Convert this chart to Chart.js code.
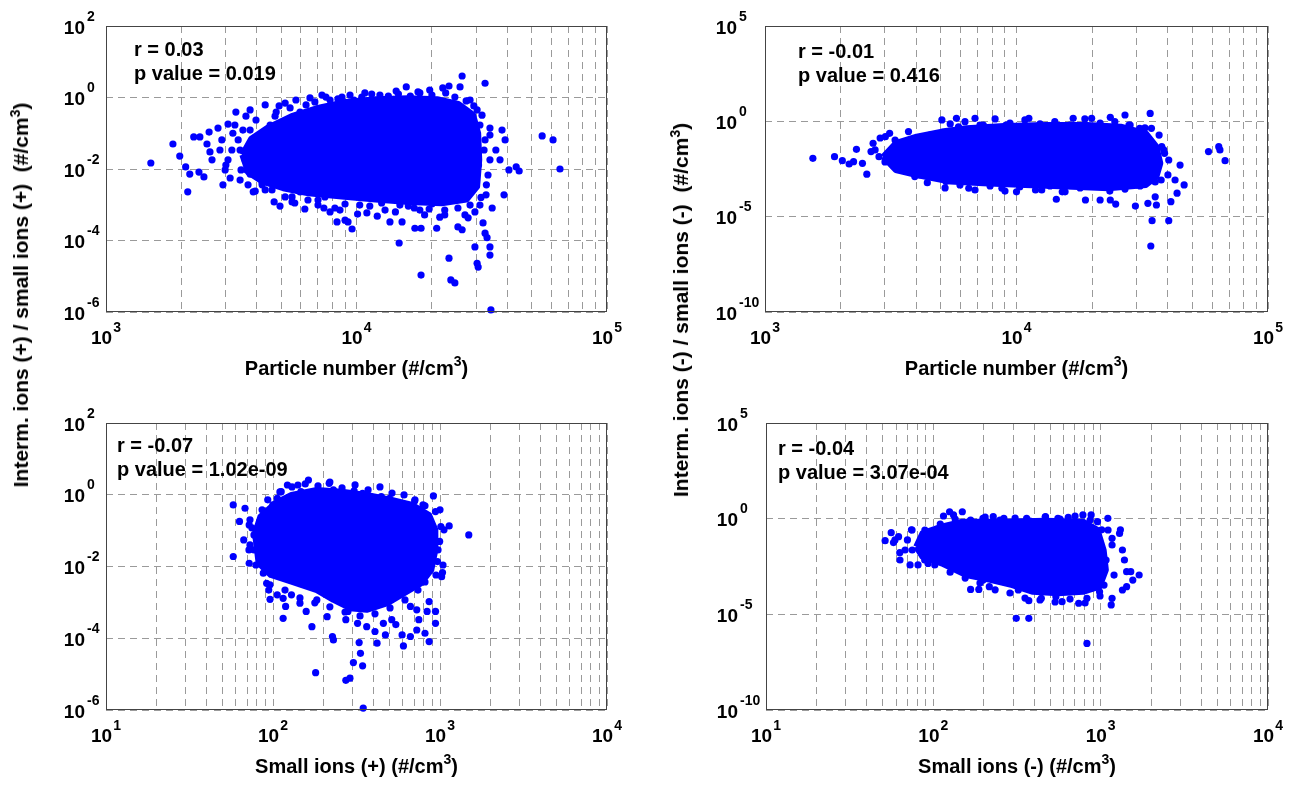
<!DOCTYPE html>
<html>
<head>
<meta charset="utf-8">
<script src="https://cdn.jsdelivr.net/npm/chart.js@4.4.0/dist/chart.umd.min.js"></script>
<style>
  html, body { margin: 0; padding: 0; background: #fff; }
  #wrap { position: relative; width: 1295px; height: 785px; overflow: hidden; }
  canvas { position: absolute; }
  .ytitle {
    position: absolute; white-space: nowrap; color: #000;
    font: bold 21px "Liberation Sans", Arial, sans-serif; line-height: 24px; height: 24px;
    transform: translate(-50%, -50%) rotate(-90deg);
  }
  .ytitle sup { font-size: 14px; line-height: 0; vertical-align: 8px; }
</style>
</head>
<body>
<div id="wrap">
  <canvas id="c1" width="647" height="392" style="left:0;top:0"></canvas>
  <canvas id="c2" width="648" height="392" style="left:647px;top:0"></canvas>
  <canvas id="c3" width="647" height="393" style="left:0;top:392px"></canvas>
  <canvas id="c4" width="648" height="393" style="left:647px;top:392px"></canvas>
  <div class="ytitle" style="left:21px;top:295px">Interm. ions (+) / small ions (+)&nbsp;&nbsp;(#/cm<sup>3</sup>)</div>
  <div class="ytitle" style="left:681px;top:310px">Interm. ions (-) / small ions (-)&nbsp;&nbsp;(#/cm<sup>3</sup>)</div>
</div>
<script>
const BLUE = "#0000ff";
const FONT = '"Liberation Sans", Arial, sans-serif';

// grid lines and tick labels
const gridParticles = [1e3, 2e3, 3e3, 4e3, 5e3, 6e3, 7e3, 8e3, 9e3,
  1e4, 2e4, 3e4, 4e4, 5e4, 6e4, 7e4, 8e4, 9e4, 1e5];
const gridSmallIons = [10, 20, 30, 40, 50, 60, 70, 80, 90,
  100, 200, 300, 400, 500, 600, 700, 800, 900,
  1000, 2000, 3000, 4000, 5000, 6000, 7000, 8000, 9000, 10000];
const labelsParticles = [1e3, 1e4, 1e5];
const labelsSmallIons = [1e1, 1e2, 1e3, 1e4];
const ticksRatioPos = [1e-6, 1e-4, 1e-2, 1e0, 1e2];
const ticksRatioNeg = [1e-10, 1e-5, 1e0, 1e5];

const xTitles = ["Particle number", "Particle number", "Small ions (+)", "Small ions (-)"];
const statR = ["r = 0.03", "r = -0.01", "r = -0.07", "r = -0.04"];
const statP = ["p value = 0.019", "p value = 0.416", "p value = 1.02e-09", "p value = 3.07e-04"];

// panel 1: particle number vs ratio (+)
const p1Core = [[3500,0.025],[3800,0.07],[4400,0.14],[5510,0.3],[6930,0.5],[9060,0.75],[11900,0.9],
  [16100,0.95],[21000,0.9],[25500,0.66],[29200,0.33],[30600,0.1],[30900,0.018],[30300,0.0032],
  [27500,0.0014],[21900,0.0011],[16100,0.0012],[11900,0.0014],[8730,0.0017],[6430,0.0021],
  [5100,0.0029],[4220,0.0044],[3700,0.008],[3500,0.025]];
const p1Points = [[1510,0.0147],[1850,0.05],[1970,0.023],[2080,0.0114],[2120,0.0023],[2160,0.0072],
  [2240,0.079],[2370,0.079],[2350,0.0082],[2460,0.006],[2530,0.05],[2580,0.108],[2600,0.03],
  [2650,0.018],[2930,0.0036],[2990,0.0094],[3070,0.18],[3210,0.10],[3460,0.0094],[3620,0.30],
  [3760,0.0072],[3940,0.0024],[4200,0.0036],[4320,0.0026],[4690,0.0012],[4730,0.30],[4910,0.58],
  [5190,0.00165],[5530,0.00165],[5950,0.0023],[6290,0.62],[6400,0.00136],[7280,1.17],[7410,0.00081],
  [7480,0.00165],[8200,0.00081],[8360,0.00033],[8750,1.03],[9000,0.00037],[9250,0.00033],
  [9600,0.00021],[9770,0.85],[11000,0.00059],[12100,0.00048],[13600,0.00033],[14400,1.52],
  [14800,8.5e-5],[15200,0.00033],[15800,1.97],[17000,0.00081],[17100,0.00022],[18100,0.00022],
  [18100,1.08e-5],[19500,0.00076],[20900,0.00022],[21500,0.00045],[22100,1.85],[23400,2.1],
  [23400,3.2e-5],[23800,7.9e-6],[24700,6.5e-6],[25400,0.00024],[25900,1.97],[26400,4.0],
  [26400,0.0002],[29700,6.6e-5],[30300,2.3e-5],[30600,1.8e-5],[32000,0.00031],[32600,2.5],
  [32600,0.00016],[33200,0.00012],[34100,6.6e-5],[34100,3.9e-5],[34400,1.14e-6],[34800,0.00081],
  [34100,0.14],[36000,0.034],[37400,0.018],[38100,0.123],[38800,0.0019],[39200,0.065],
  [40600,0.0094],[43400,0.0114],[44600,0.0088],[55100,0.084],[60900,0.065],[64900,0.01],
  [3180,0.034],[3370,0.065],[3590,0.018],[3760,0.123],[3940,0.034],[4050,0.0094],[4200,0.065],
  [3430,0.0049],[3070,0.018],[2850,0.034],[3270,0.17],[3690,0.0036],[4440,0.0056],[4520,0.17],
  [5430,0.51],[5950,0.39],[6820,0.75],[7840,0.85],[10800,1.34],[12400,1.17],[17900,1.34],
  [19600,1.62],[28400,0.85],[5670,0.00112],[7020,0.00098],[8590,0.00071],[10300,0.00098],
  [13000,0.00071],[14900,0.00098],[18700,0.00052],[22500,0.00071],[27100,0.00052],[28400,0.00098],
  [31700,0.32],[32600,0.065],[33500,0.0068],[32900,0.0019],[31100,0.00098],[34100,0.018]];
const p1Edge = [[5190,0.70],[5730,0.85],[6520,0.97],[7550,1.03],[8430,0.91],[9420,1.17],[10500,1.03],
  [11500,1.25],[13400,1.1],[14700,1.25],[16400,1.1],[17600,1.43],[20000,1.17],[22700,1.34],
  [24700,1.03],[27400,0.8],[29400,0.58],
  [4950,0.00092],[5530,0.0012],[6220,0.00076],[7020,0.00136],[7840,0.00063],[9000,0.00105],
  [10100,0.00055],[11300,0.00092],[12600,0.00112],[14300,0.00063],[16100,0.00092],[17900,0.00071],
  [20000,0.00105],[22500,0.00052],[25400,0.00081],[27900,0.00043],[29700,0.00063],
  [2800,0.14],[2900,0.065],[3010,0.0129],[3130,0.0056],[3300,0.39],[3430,0.034],[3520,0.123],
  [3650,0.0094],[3830,0.065],[3870,0.0023],[3970,0.235],[4120,0.018],[4200,0.0041],[4350,0.108],
  [4520,0.034],[4600,0.0026],[4780,0.39],[4780,0.0094],[4320,0.62],[3760,0.45],
  [31100,0.17],[32300,0.034],[30700,0.0129],[33000,0.0036],[31400,0.0016],[34100,0.089],[30300,0.45]];

// panel 2: particle number vs ratio (-)
const p2Core = [[2950,0.014],[3310,0.071],[4010,0.157],[5050,0.29],[6340,0.43],[8930,0.57],
  [13100,0.64],[19100,0.64],[26000,0.52],[32700,0.236],[36000,0.047],[37300,0.0063],[36000,0.00126],
  [32700,0.00046],[23200,0.00031],[15800,0.00038],[10800,0.00046],[7380,0.00056],[5450,0.00069],
  [4010,0.00154],[3310,0.0028],[2950,0.014]];
const p2Points = [[1550,0.0115],[1890,0.014],[2030,0.0086],[2160,0.0058],[2250,0.0077],[2310,0.034],
  [2440,0.0063],[2540,0.0017],[2640,0.026],[2690,0.071],[2840,0.014],[3010,0.157],[3130,0.236],
  [3220,0.0051],[3440,0.021],[3720,0.29],[3940,0.00126],[4170,0.105],[4420,0.00061],[5050,1.18],
  [5240,0.00069],[5770,1.44],[5880,0.52],[6460,0.00031],[6840,1.44],[7380,0.64],[8750,0.00031],
  [9080,0.64],[10000,0.0002],[11200,1.44],[12600,0.00025],[14400,8.2e-5],[15200,0.0002],
  [16800,1.44],[18800,7.5e-5],[19900,1.44],[21500,7.5e-5],[23600,1.63],[23600,7.5e-5],
  [24800,4.6e-5],[27000,2.15],[28000,0.64],[29700,3.6e-5],[30900,0.43],[33300,5.0e-5],[34000,2.6],
  [34400,0.43],[34600,6.2e-6],[35600,0.00011],[36000,4.1e-5],[37800,0.047],[38800,0.021],
  [40300,0.0094],[40300,6.2e-6],[41100,6.1e-5],[42700,0.00084],[43500,0.00017],[44700,0.0051],
  [46400,0.00046],[58000,0.026],[63700,0.047],[64400,0.0315],[67500,0.0086],[34200,2.9e-7]];
const p2Edge = [[5450,0.73],[6240,0.96],[7160,0.64],[8220,1.33],[9420,0.82],[10800,1.18],[12400,0.73],
  [14200,0.96],[16300,0.64],[18700,1.33],[21500,0.82],[24600,0.96],[28300,0.64],[32400,0.45],
  [5200,3.2e-4],[5960,4.6e-4],[6840,2.5e-4],[7850,4.1e-4],[9000,2.2e-4],[10300,3.6e-4],
  [11900,2.5e-4],[13600,4.1e-4],[15600,2.0e-4],[17900,3.2e-4],[20500,4.6e-4],[23500,2.2e-4],
  [27000,2.8e-4],[31000,4.1e-4],[35600,6.6e-4],
  [2740,0.0315],[3000,0.0074],[3290,0.105],[3610,0.0028],[3950,0.058],[4330,0.0051],[4530,0.19],
  [3440,0.0172],[2870,0.134],[4130,0.00154],
  [36900,0.19],[38500,0.0315],[36300,0.0051],[40000,0.00154],[37600,8.4e-4]];

// panel 3: small ions (+) vs ratio (+)
const p3Core = [[78,0.085],[84,0.245],[103,0.58],[129,0.99],[183,1.36],[258,1.22],[364,0.99],
  [514,0.72],[684,0.52],[861,0.27],[938,0.105],[938,0.029],[887,0.008],[768,0.0034],[611,0.0018],
  [485,0.00095],[364,0.00062],[289,0.00069],[230,0.00117],[183,0.0022],[129,0.0038],[97,0.0058],
  [82,0.0124],[78,0.085]];
const p3Points = [[57.8,0.52],[63,0.18],[68,0.42],[72,0.144],[57.8,0.019],[66.8,0.055],[72.8,0.04],
  [72,0.0123],[77,0.029],[84,0.015],[87.5,0.0065],[91.6,0.0034],[94.3,0.0022],[96,0.00122],
  [99.8,0.52],[106,0.8],[112,1.22],[122,1.87],[141,1.87],[147,1.22],[163,2.58],[217,2.08],
  [230,1.36],[306,1.28],[344,1.1],[445,0.89],[499,0.8],[705,0.67],[791,0.52],[913,0.93],[940,0.34],
  [1012,0.13],[1135,0.135],[1487,0.076],[995,0.05],[966,0.0137],[1035,0.0068],[1023,0.0052],
  [106,0.00162],[115,0.0013],[119,0.00077],[115,0.00036],[129,0.00162],[145,0.00095],[158,0.00056],
  [171,0.00021],[183,0.00117],[211,0.0004],[227,0.000112],[230,9.0e-5],[273,0.00033],[281,0.00056],
  [321,0.00026],[328,7.6e-5],[334,3.8e-5],[303,2.1e-5],[344,1.7e-5],[289,7.7e-6],[273,6.7e-6],
  [180,1.1e-5],[347,1.13e-6],[364,0.00021],[408,0.000154],[420,7.3e-5],[458,0.00026],
  [471,0.000124],[514,0.00033],[544,0.00024],[593,0.000124],[604,6.1e-5],[665,0.000112],
  [726,0.00017],[747,0.00033],[813,0.000138],[861,8.1e-5],[940,0.00026],[940,0.00056],
  [861,0.00105],[837,0.00056],[726,0.00062],[665,0.00077]];
const p3Edge = [[110,1.2],[130,1.65],[156,2.0],[186,1.76],[219,2.27],[259,1.55],[310,1.88],[371,1.36],
  [437,1.65],[516,1.12],[609,0.99],[708,0.72],[813,0.49],[93,0.72],[86,0.38],
  [72.8,0.2],[76.9,0.076],[71.8,0.029],[79,0.011],[74.8,0.119],
  [1000,0.38],[1057,0.105],[973,0.029],[1042,0.011],[946,0.0058],
  [95.9,0.0031],[118,0.0022],[145,0.00133],[178,0.00097],[219,0.00075],[270,0.00054],[332,0.00042],
  [408,0.00048],[502,0.0007],[617,0.00117],[738,0.0022],[813,0.0037]];

// panel 4: small ions (-) vs ratio (-)
const p4Core = [[79,0.034],[86,0.17],[112,0.38],[149,0.7],[264,0.7],[468,0.79],[783,0.7],
  [957,0.26],[1042,0.023],[1074,0.0021],[985,0.00028],[783,0.00015],[555,0.000125],[394,0.00015],
  [296,0.00034],[222,0.00062],[157,0.00114],[112,0.0046],[86,0.0103],[79,0.034]];
const p4Points = [[51.5,0.071],[56,0.185],[57.8,0.056],[62,0.115],[63,0.0167],[70,0.077],[74,0.26],
  [72.6,0.0038],[74.8,0.023],[88.8,0.0069],[93,0.0046],[105,0.0103],[115,1.38],[125,2.3],
  [132,1.56],[149,2.3],[167,0.85],[198,1.04],[228,1.27],[264,1.04],[361,1.04],[468,1.27],
  [555,1.04],[640,1.17],[783,1.56],[877,1.56],[957,0.7],[1104,1.04],[1014,0.26],[1170,0.094],
  [1312,0.26],[1297,0.17],[1349,0.023],[1387,0.0069],[1429,0.0017],[1513,0.0017],[1698,0.00114],
  [1556,0.00062],[1349,0.000187],[1429,0.00028],[1170,6.9e-5],[1156,3.1e-5],[985,0.00015],
  [828,6.9e-5],[739,3.8e-5],[588,4.6e-5],[540,8.4e-5],[442,6.9e-5],[372,5.2e-5],[322,0.000187],
  [341,0.00028],[216,0.00028],[187,0.0002],[167,0.0002],[198,0.00062],[313,6.2e-6],[372,6.2e-6],
  [828,3.0e-7]];
const p4Edge = [[89,0.255],[110,0.52],[135,0.96],[166,0.75],[204,1.22],[250,0.85],[308,1.08],
  [378,0.75],[466,1.22],[572,0.96],[703,1.37],[865,0.85],
  [102,0.0038],[126,0.0016],[155,0.00079],[190,0.00043],[234,0.00019],[287,0.00013],[353,7.1e-5],
  [434,5.6e-5],[534,4.4e-5],[656,6.3e-5],[807,3.9e-5],[991,9.1e-5],
  [1107,0.255],[1170,0.042],[1077,0.0069],[1202,0.00113],[1047,0.00034],
  [59,0.077],[67.8,0.023],[74.6,0.255],[63.2,0.0069],[81,0.0038]];

const decor = {
  id: "decor",
  afterDraw(chart, args, o) {
    const { ctx, chartArea: a, scales: { x, y } } = chart;
    ctx.save();
    ctx.strokeStyle = "#444";
    ctx.lineWidth = 1;
    ctx.strokeRect(a.left + 0.5, a.top + 0.5, a.right - a.left - 1, a.bottom - a.top - 1);

    ctx.fillStyle = "#000";
    ctx.textBaseline = "alphabetic";
    o.xLabels.forEach((v) => {
      const px = x.getPixelForValue(v);
      const e = String(Math.round(Math.log10(v)));
      ctx.font = "bold 19px " + FONT;
      const w1 = ctx.measureText("10").width;
      ctx.font = "bold 14px " + FONT;
      const w2 = ctx.measureText(e).width;
      const s = px - (w1 + 1 + w2) / 2;
      ctx.textAlign = "left";
      ctx.font = "bold 19px " + FONT;
      ctx.fillText("10", s, a.bottom + 32);
      ctx.font = "bold 14px " + FONT;
      ctx.fillText(e, s + w1 + 1, a.bottom + 20);
    });
    o.yTicks.forEach((v) => {
      const py = y.getPixelForValue(v);
      const e = String(Math.round(Math.log10(v)));
      ctx.font = "bold 19px " + FONT;
      ctx.textAlign = "right";
      ctx.fillText("10", a.left - o.gap, py + 7.5);
      ctx.font = "bold 14px " + FONT;
      ctx.textAlign = "left";
      ctx.fillText(e, a.left - o.gap + 2, py - 5.5);
    });

    // x axis title with superscript
    const parts = [[o.title + " (#/cm", 20, 0], ["3", 14, -9], [")", 20, 0]];
    let total = 0;
    parts.forEach((p) => {
      ctx.font = "bold " + p[1] + "px " + FONT;
      p.push(ctx.measureText(p[0]).width);
      total += p[3];
    });
    let cx = (a.left + a.right) / 2 - total / 2;
    ctx.textAlign = "left";
    parts.forEach((p) => {
      ctx.font = "bold " + p[1] + "px " + FONT;
      ctx.fillText(p[0], cx, a.bottom + 63 + p[2]);
      cx += p[3];
    });

    ctx.font = "bold 20px " + FONT;
    ctx.fillText(o.r, a.left + o.sx, a.top + o.sy);
    ctx.fillText(o.p, a.left + o.sx, a.top + o.sy + 24);
    ctx.restore();
  },
};

function toXY(arr) {
  return arr.map(([x, y]) => ({ x, y }));
}

function makeChart(id, cfg) {
  const grid = { color: "#9a9a9a", lineWidth: 1, drawTicks: false };
  const border = { display: false, dash: [7, 5] };
  return new Chart(document.getElementById(id), {
    type: "scatter",
    data: {
      datasets: [
        {
          data: toXY(cfg.core),
          showLine: true,
          fill: "shape",
          tension: 0,
          pointRadius: 0,
          borderWidth: 6,
          borderJoinStyle: "round",
          borderColor: BLUE,
          backgroundColor: BLUE,
          clip: false,
        },
        {
          data: toXY(cfg.points),
          pointRadius: 3.6,
          pointBorderWidth: 0,
          backgroundColor: BLUE,
          borderColor: BLUE,
          clip: false,
        },
      ],
    },
    options: {
      responsive: false,
      animation: false,
      devicePixelRatio: 1,
      layout: { padding: cfg.pad },
      plugins: {
        legend: { display: false },
        tooltip: { enabled: false },
        decor: cfg.decor,
      },
      scales: {
        x: {
          type: "logarithmic",
          min: cfg.xRange[0],
          max: cfg.xRange[1],
          afterBuildTicks: (s) => { s.ticks = cfg.xGrid.map((value) => ({ value })); },
          afterFit: (s) => { s.height = 0; },
          ticks: { display: false },
          grid,
          border,
        },
        y: {
          type: "logarithmic",
          min: cfg.yTicks[0],
          max: cfg.yTicks[cfg.yTicks.length - 1],
          afterBuildTicks: (s) => { s.ticks = cfg.yTicks.map((value) => ({ value })); },
          afterFit: (s) => { s.width = 0; },
          ticks: { display: false },
          grid,
          border,
        },
      },
    },
    plugins: [decor],
  });
}

makeChart("c1", {
  core: p1Core, points: p1Points.concat(p1Edge), xRange: [1e3, 1e5], xGrid: gridParticles, yTicks: ticksRatioPos,
  pad: { left: 106, top: 26, right: 40, bottom: 80 },
  decor: { xLabels: labelsParticles, yTicks: ticksRatioPos, gap: 21, title: xTitles[0], r: statR[0], p: statP[0], sx: 28, sy: 30 },
});
makeChart("c2", {
  core: p2Core, points: p2Points.concat(p2Edge), xRange: [1e3, 1e5], xGrid: gridParticles, yTicks: ticksRatioNeg,
  pad: { left: 118, top: 26, right: 27, bottom: 80 },
  decor: { xLabels: labelsParticles, yTicks: ticksRatioNeg, gap: 28, title: xTitles[1], r: statR[1], p: statP[1], sx: 33, sy: 32 },
});
makeChart("c3", {
  core: p3Core, points: p3Points.concat(p3Edge), xRange: [1e1, 1e4], xGrid: gridSmallIons, yTicks: ticksRatioPos,
  pad: { left: 106, top: 31, right: 40, bottom: 75 },
  decor: { xLabels: labelsSmallIons, yTicks: ticksRatioPos, gap: 21, title: xTitles[2], r: statR[2], p: statP[2], sx: 11, sy: 29 },
});
makeChart("c4", {
  core: p4Core, points: p4Points.concat(p4Edge), xRange: [1e1, 1e4], xGrid: gridSmallIons, yTicks: ticksRatioNeg,
  pad: { left: 119, top: 31, right: 27, bottom: 75 },
  decor: { xLabels: labelsSmallIons, yTicks: ticksRatioNeg, gap: 28, title: xTitles[3], r: statR[3], p: statP[3], sx: 12, sy: 32 },
});
</script>
</body>
</html>
